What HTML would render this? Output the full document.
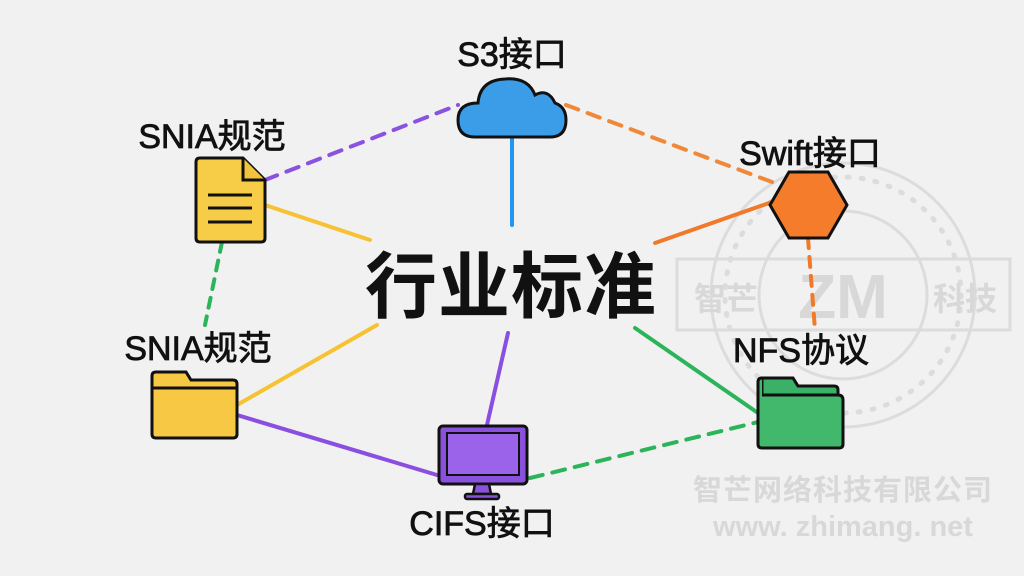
<!DOCTYPE html>
<html><head><meta charset="utf-8"><style>
body{margin:0;background:#f1f1f1;}
svg{display:block}
text{font-family:"Liberation Sans","Noto Sans CJK SC",sans-serif;}
</style></head><body>
<svg width="1024" height="576" viewBox="0 0 1024 576">
<rect width="1024" height="576" fill="#f1f1f1"/>
<!-- watermark -->
<g fill="none" stroke="#dcdcdc" stroke-width="3">
<circle cx="843" cy="295" r="132"/>
<circle cx="843" cy="295" r="84"/>
<circle cx="843" cy="295" r="118" stroke-dasharray="2 12" stroke-width="5" stroke-linecap="round"/>
<rect x="677" y="259" width="333" height="71"/>
</g>
<g fill="#d8d8d8" font-weight="bold">
<text x="843" y="318" text-anchor="middle" font-family="Liberation Serif,serif" font-size="62">ZM</text>
<text x="726" y="310" text-anchor="middle" font-size="32">智芒</text>
<text x="965" y="310" text-anchor="middle" font-size="32">科技</text>
<text x="843" y="500" text-anchor="middle" font-size="29" letter-spacing="1">智芒网络科技有限公司</text>
<text x="843" y="536" text-anchor="middle" font-size="29" font-family="Liberation Mono,monospace">www. zhimang. net</text>
</g>
<!-- connectors -->
<g stroke-width="4" fill="none" stroke-linecap="round">
<line x1="512" y1="138" x2="512" y2="225" stroke="#2196f3"/>
<line x1="265" y1="180" x2="458" y2="105" stroke="#8a52e0" stroke-dasharray="13 10"/>
<line x1="566" y1="105" x2="780" y2="185" stroke="#f0883a" stroke-dasharray="13 10"/>
<line x1="655" y1="243" x2="772" y2="202" stroke="#f07a2a"/>
<line x1="808" y1="238" x2="815" y2="330" stroke="#f07a2a" stroke-dasharray="10 9"/>
<line x1="635" y1="328" x2="758" y2="413" stroke="#2cb45a"/>
<line x1="530" y1="478" x2="758" y2="422" stroke="#2cb45a" stroke-dasharray="13 10"/>
<line x1="508" y1="333" x2="487" y2="425" stroke="#8a4fe0"/>
<line x1="237" y1="415" x2="437" y2="475" stroke="#8a4fe0"/>
<line x1="237" y1="405" x2="377" y2="325" stroke="#f6c232"/>
<line x1="265" y1="205" x2="370" y2="240" stroke="#f6c232"/>
<line x1="222" y1="242" x2="205" y2="325" stroke="#2cb45a" stroke-dasharray="10 9"/>
</g>
<!-- cloud -->
<path d="M475 137 Q458 137 458 120 Q458 103 478 103 Q480 80 505 79 Q528 77 535 95 Q548 88 555 103 Q566 107 566 120 Q566 137 550 137 Z" fill="#3b9de8" stroke="#111" stroke-width="3"/>
<!-- doc -->
<path d="M200 158 L243 158 L265 180 L265 238 Q265 242 261 242 L200 242 Q196 242 196 238 L196 162 Q196 158 200 158Z" fill="#f7cd48" stroke="#111" stroke-width="3"/>
<path d="M243 158 L243 180 L265 180" fill="#f2c33c" stroke="#111" stroke-width="3"/>
<g stroke="#111" stroke-width="3"><line x1="208" y1="195" x2="252" y2="195"/><line x1="208" y1="208" x2="252" y2="208"/><line x1="208" y1="222" x2="252" y2="222"/></g>
<!-- hexagon -->
<polygon points="789,172 828,172 847,205 828,238 789,238 770,205" fill="#f47c2b" stroke="#111" stroke-width="3"/>
<!-- green folder -->
<path d="M762 378 L793 378 L798 386 L834 386 Q838 386 838 390 L838 396 L762 396Z" fill="#3bb167" stroke="#111" stroke-width="3"/>
<path d="M762 395 L838 395 Q843 395 843 400 L843 444 Q843 448 839 448 L762 448 Q758 448 758 444 L758 382 Q758 378 762 378" fill="#42b86c" stroke="#111" stroke-width="3"/>
<!-- yellow folder -->
<path d="M156 372 L186 372 L191 380 L233 380 Q237 380 237 384 L237 434 Q237 438 233 438 L156 438 Q152 438 152 434 L152 376 Q152 372 156 372Z" fill="#f6c844" stroke="#111" stroke-width="3"/>
<line x1="152" y1="388" x2="237" y2="388" stroke="#111" stroke-width="3"/>
<!-- monitor -->
<rect x="439" y="426" width="88" height="58" rx="4" fill="#8a52dc" stroke="#111" stroke-width="3"/>
<rect x="447" y="433" width="72" height="42" fill="#9b62ea" stroke="#111" stroke-width="2"/>
<path d="M475 484 L489 484 L491 494 L473 494Z" fill="#8a52dc" stroke="#111" stroke-width="2.5"/>
<rect x="465" y="494" width="34" height="5" rx="2" fill="#8a52dc" stroke="#111" stroke-width="2.5"/>
<!-- labels -->
<g fill="#111" stroke="#111" stroke-width="0.8" font-size="34" text-anchor="middle">
<text x="512" y="66">S3接口</text>
<text x="212" y="148">SNIA规范</text>
<text x="810" y="165">Swift接口</text>
<text x="198" y="360">SNIA规范</text>
<text x="801" y="362">NFS协议</text>
<text x="482" y="535">CIFS接口</text>
</g>
<text x="511" y="312" text-anchor="middle" font-size="72" font-weight="bold" fill="#111" letter-spacing="1">行业标准</text>
</svg>
</body></html>
